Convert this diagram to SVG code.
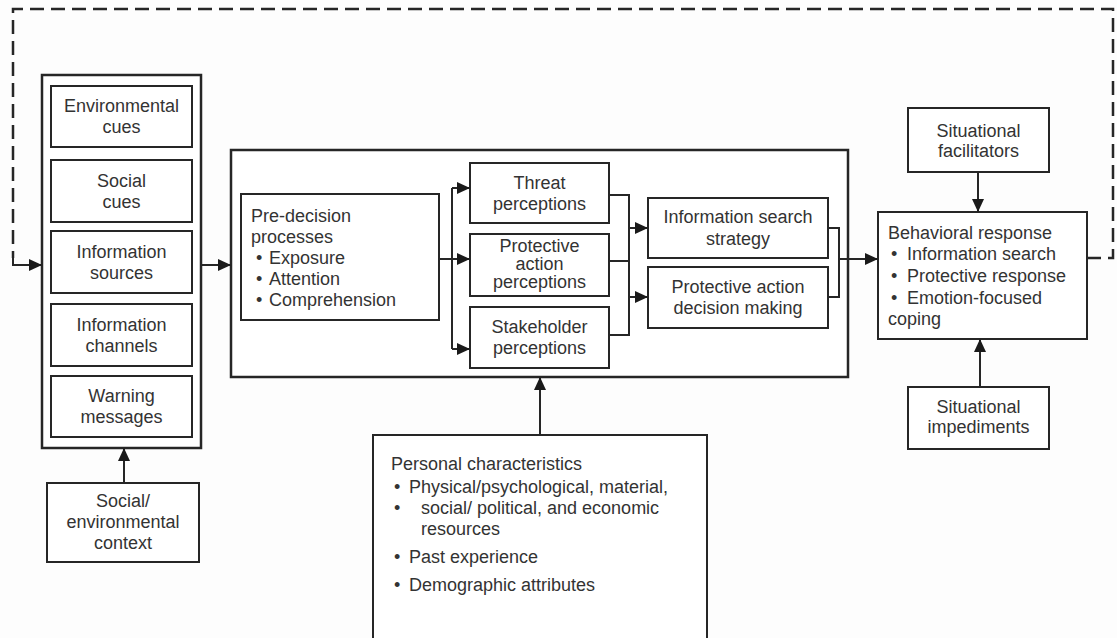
<svg xmlns="http://www.w3.org/2000/svg" width="1117" height="638" viewBox="0 0 1117 638">
<style>
.box{fill:#fff;stroke:#262626;stroke-width:2}
.outer{fill:#fff;stroke:#262626;stroke-width:2.5}
.t{font-family:"Liberation Sans",Arial,sans-serif;font-size:18px;fill:#333}
.c{text-anchor:middle}
.ln{fill:none;stroke:#262626;stroke-width:2}
.dash{fill:none;stroke:#262626;stroke-width:2.5;stroke-dasharray:14 7}
</style>
<defs>
<marker id="ah" markerWidth="13" markerHeight="12" refX="13" refY="6" orient="auto" markerUnits="userSpaceOnUse"><path d="M0,0 L13,6 L0,12 z" fill="#1a1a1a"/></marker>
</defs>
<rect width="1117" height="638" fill="#fdfdfd"/>

<g id="outer-left">
<rect class="outer" x="42" y="75" width="159" height="373"/>
</g>
<g id="env-cues"><rect class="box" x="51" y="86" width="141" height="61"/>
<text class="t c" x="121.5" y="112">Environmental</text><text class="t c" x="121.5" y="133">cues</text></g>
<g id="social-cues"><rect class="box" x="51" y="160" width="141" height="62"/>
<text class="t c" x="121.5" y="187">Social</text><text class="t c" x="121.5" y="208">cues</text></g>
<g id="info-sources"><rect class="box" x="51" y="231" width="141" height="62"/>
<text class="t c" x="121.5" y="258">Information</text><text class="t c" x="121.5" y="279">sources</text></g>
<g id="info-channels"><rect class="box" x="51" y="304" width="141" height="62"/>
<text class="t c" x="121.5" y="331">Information</text><text class="t c" x="121.5" y="352">channels</text></g>
<g id="warning"><rect class="box" x="51" y="376" width="141" height="61"/>
<text class="t c" x="121.5" y="402">Warning</text><text class="t c" x="121.5" y="423">messages</text></g>

<g id="context"><rect class="box" x="47" y="483" width="152" height="79"/>
<text class="t c" x="123" y="507">Social/</text><text class="t c" x="123" y="528">environmental</text><text class="t c" x="123" y="549">context</text></g>

<g id="middle-box"><rect class="outer" x="231" y="150" width="617" height="227"/></g>
<g id="predecision"><rect class="box" x="241" y="194" width="198" height="126"/>
<text class="t" x="251" y="222">Pre-decision</text>
<text class="t" x="251" y="243">processes</text>
<text class="t" x="256" y="264">•</text><text class="t" x="269" y="264">Exposure</text>
<text class="t" x="256" y="285">•</text><text class="t" x="269" y="285">Attention</text>
<text class="t" x="256" y="306">•</text><text class="t" x="269" y="306">Comprehension</text></g>

<g id="threat"><rect class="box" x="470" y="163" width="139" height="60"/>
<text class="t c" x="539.5" y="189">Threat</text><text class="t c" x="539.5" y="210">perceptions</text></g>
<g id="protective-perc"><rect class="box" x="470" y="234" width="139" height="62"/>
<text class="t c" x="539.5" y="252">Protective</text><text class="t c" x="539.5" y="270">action</text><text class="t c" x="539.5" y="288">perceptions</text></g>
<g id="stakeholder"><rect class="box" x="470" y="307" width="139" height="61"/>
<text class="t c" x="539.5" y="333">Stakeholder</text><text class="t c" x="539.5" y="354">perceptions</text></g>

<g id="info-search"><rect class="box" x="648" y="198" width="180" height="60"/>
<text class="t c" x="738" y="223">Information search</text><text class="t c" x="738" y="245">strategy</text></g>
<g id="decision"><rect class="box" x="648" y="267" width="180" height="61"/>
<text class="t c" x="738" y="293">Protective action</text><text class="t c" x="738" y="314">decision making</text></g>

<g id="behavioral"><rect class="box" x="878" y="212" width="209" height="127"/>
<text class="t" x="888" y="239">Behavioral response</text>
<text class="t" x="891" y="260">•</text><text class="t" x="907" y="260">Information search</text>
<text class="t" x="891" y="282">•</text><text class="t" x="907" y="282">Protective response</text>
<text class="t" x="891" y="304">•</text><text class="t" x="907" y="304">Emotion-focused</text>
<text class="t" x="888" y="325">coping</text></g>

<g id="facilitators"><rect class="box" x="908" y="108" width="141" height="64"/>
<text class="t c" x="978.5" y="137">Situational</text><text class="t c" x="978.5" y="157">facilitators</text></g>
<g id="impediments"><rect class="box" x="908" y="387" width="141" height="62"/>
<text class="t c" x="978.5" y="413">Situational</text><text class="t c" x="978.5" y="433">impediments</text></g>

<g id="personal"><rect class="box" x="373" y="435" width="334" height="215"/>
<text class="t" x="391" y="470">Personal characteristics</text>
<text class="t" x="394" y="493">•</text><text class="t" x="409" y="493">Physical/psychological, material,</text>
<text class="t" x="394" y="514">•</text><text class="t" x="421" y="514">social/ political, and economic</text>
<text class="t" x="421" y="535">resources</text>
<text class="t" x="394" y="563">•</text><text class="t" x="409" y="563">Past experience</text>
<text class="t" x="394" y="591">•</text><text class="t" x="409" y="591">Demographic attributes</text></g>

<g id="connectors">
<path class="dash" d="M1087,258 H1113 V9 H13 V258"/>
<path class="ln" d="M13,256 V265 H42" marker-end="url(#ah)"/>
<path class="ln" d="M201,265 H231" marker-end="url(#ah)"/>
<path class="ln" d="M124,483 V448" marker-end="url(#ah)"/>
<path class="ln" d="M439,259 H452"/>
<path class="ln" d="M452,188 V349"/>
<path class="ln" d="M452,188 H470" marker-end="url(#ah)"/>
<path class="ln" d="M452,259 H470" marker-end="url(#ah)"/>
<path class="ln" d="M452,349 H470" marker-end="url(#ah)"/>
<path class="ln" d="M609,195 H629 V335 H609"/>
<path class="ln" d="M609,261 H629"/>
<path class="ln" d="M629,228 H648" marker-end="url(#ah)"/>
<path class="ln" d="M629,297 H648" marker-end="url(#ah)"/>
<path class="ln" d="M828,228 H839 V297 H828"/>
<path class="ln" d="M839,259 H878" marker-end="url(#ah)"/>
<path class="ln" d="M978,172 V212" marker-end="url(#ah)"/>
<path class="ln" d="M980,387 V339" marker-end="url(#ah)"/>
<path class="ln" d="M540,435 V377" marker-end="url(#ah)"/>
</g>
</svg>
